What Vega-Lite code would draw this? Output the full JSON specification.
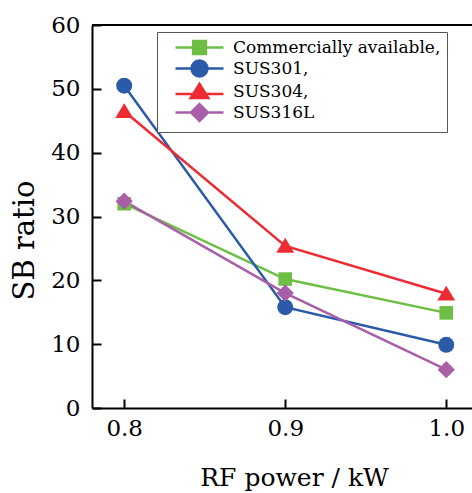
{
  "$schema": "https://vega.github.io/schema/vega-lite/v6.json",
  "width": 380,
  "height": 383,
  "autosize": {"type": "none"},
  "padding": {"left": 92, "top": 25, "right": 0, "bottom": 85},
  "background": "white",
  "config": {
    "view": {"stroke": null},
    "font": "DejaVu Serif",
    "legend": {"labelFont": "DejaVu Serif", "labelFontSize": 17, "labelColor": "black"},
    "axis": {
      "labelFont": "DejaVu Serif",
      "titleFont": "DejaVu Serif",
      "labelFontSize": 23,
      "titleFontWeight": "normal",
      "labelColor": "black",
      "titleColor": "black",
      "domainColor": "black",
      "domainWidth": 2,
      "tickColor": "black",
      "tickWidth": 2,
      "tickSize": -9,
      "grid": false
    }
  },
  "data": {
    "values": [
      {"power": 0.8, "ratio": 32.0, "series": "Commercially available"},
      {"power": 0.9, "ratio": 20.2, "series": "Commercially available"},
      {"power": 1.0, "ratio": 14.9, "series": "Commercially available"},
      {"power": 0.8, "ratio": 50.5, "series": "SUS301"},
      {"power": 0.9, "ratio": 15.8, "series": "SUS301"},
      {"power": 1.0, "ratio": 9.9, "series": "SUS301"},
      {"power": 0.8, "ratio": 46.5, "series": "SUS304"},
      {"power": 0.9, "ratio": 25.4, "series": "SUS304"},
      {"power": 1.0, "ratio": 17.9, "series": "SUS304"},
      {"power": 0.8, "ratio": 32.4, "series": "SUS316L"},
      {"power": 0.9, "ratio": 18.0, "series": "SUS316L"},
      {"power": 1.0, "ratio": 6.0, "series": "SUS316L"}
    ]
  },
  "encoding": {
    "x": {
      "field": "power",
      "type": "quantitative",
      "scale": {"domain": [0.78, 1.016], "nice": false, "zero": false},
      "axis": {
        "values": [0.8, 0.9, 1.0], "format": ".1f", "title": "RF power / kW", "titleFontSize": 25,
        "labelPadding": 18, "titleX": 202, "titleY": 77, "titleBaseline": "alphabetic", "titleAlign": "center"
      }
    },
    "y": {
      "field": "ratio",
      "type": "quantitative",
      "scale": {"domain": [0, 60], "nice": false},
      "axis": {
        "values": [0, 10, 20, 30, 40, 50, 60], "title": "SB ratio", "titleFontSize": 29,
        "labelPadding": 21, "titleX": -68, "titleY": 215, "titleAlign": "center", "titleBaseline": "middle", "titleAngle": -90
      }
    },
    "color": {
      "field": "series",
      "type": "nominal",
      "scale": {
        "domain": ["Commercially available", "SUS301", "SUS304", "SUS316L"],
        "range": ["#6dbe45", "#2b5aa8", "#ed2b32", "#a85fa8"]
      },
      "legend": {
        "title": null,
        "orient": "none",
        "legendX": 65,
        "legendY": 7,
        "direction": "vertical",
        "strokeColor": "#555",
        "fillColor": "white",
        "padding": 6,
        "symbolSize": 256,
        "symbolOffset": 27,
        "labelOffset": 24,
        "rowPadding": -6,
        "labelFont": "DejaVu Serif",
        "labelFontSize": 17,
        "labelColor": "black",
        "labelLimit": 320,
        "labelExpr": "datum.label === 'SUS316L' ? datum.label : datum.label + ','",
        "encode": {
          "labels": {
            "update": {
              "font": {"value": "DejaVu Serif"}
            }
          },
          "symbols": {
            "update": {
              "fill": {"scale": "color", "field": "value"},
              "stroke": {"scale": "color", "field": "value"},
              "strokeWidth": {"value": 2.5},
              "opacity": {"value": 1},
              "fillOpacity": {"value": 1},
              "strokeOpacity": {"value": 1},
              "shape": {"signal": "datum.value === 'SUS301' ? 'M-3,0H-1M1,0H3M1,0A1,1,0,1,1,-1,0A1,1,0,1,1,1,0Z' : datum.value === 'SUS304' ? 'M-3,0.3H-0.9M0.9,0.3H3M0,-0.95L1.1,0.8H-1.1Z' : datum.value === 'SUS316L' ? 'M-3,0H-1.05M1.05,0H3M0,-1.05L1.05,0L0,1.05L-1.05,0Z' : 'M-3,0H-0.8M0.8,0H3M-0.8,-0.8H0.8V0.8H-0.8Z'"}
            }
          }
        }
      }
    }
  },
  "layer": [
    {
      "mark": {"type": "rule", "color": "black", "strokeWidth": 2},
      "encoding": {"y": {"datum": 60}, "x": null, "color": null}
    },
    {
      "mark": {"type": "line", "strokeWidth": 2.5}
    },
    {
      "transform": [{"filter": "datum.series === 'Commercially available'"}],
      "mark": {"type": "point", "filled": true, "opacity": 1, "size": 256, "shape": "M-0.85,-0.85H0.85V0.85H-0.85Z"}
    },
    {
      "transform": [{"filter": "datum.series === 'SUS301'"}],
      "mark": {"type": "point", "filled": true, "opacity": 1, "size": 256, "shape": "circle"}
    },
    {
      "transform": [{"filter": "datum.series === 'SUS304'"}],
      "mark": {"type": "point", "filled": true, "opacity": 1, "size": 256, "shape": "M0,-1L1.12,0.85H-1.12Z"}
    },
    {
      "transform": [{"filter": "datum.series === 'SUS316L'"}],
      "mark": {"type": "point", "filled": true, "opacity": 1, "size": 256, "shape": "M0,-1.08L1.08,0L0,1.08L-1.08,0Z"}
    }
  ]
}
